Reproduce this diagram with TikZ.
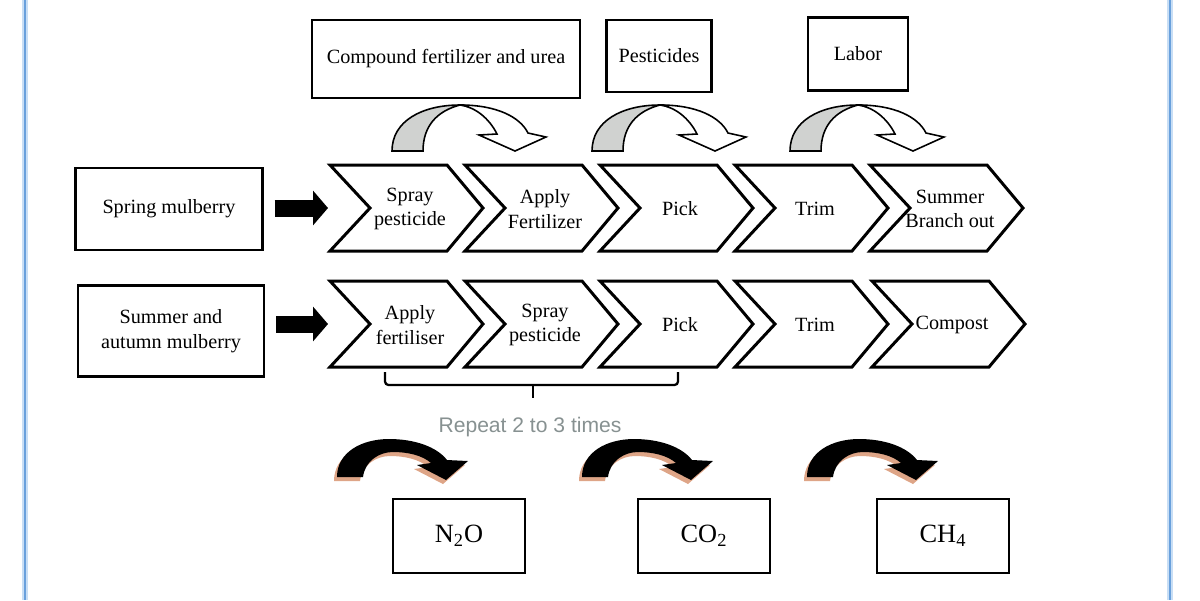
\documentclass[tikz,border=0pt]{standalone}
\usepackage{fontspec}
\setmainfont{Liberation Serif}
\newfontfamily\repeatfont{Liberation Sans}
\usepackage{xcolor}
\usetikzlibrary{calc, arrows.meta}

\definecolor{frameblue}{RGB}{105,160,220}
\definecolor{frameglow}{RGB}{200,222,245}
\definecolor{twistgray}{RGB}{208,210,208}
\definecolor{shadowsalmon}{RGB}{222,165,135}
\definecolor{repeatgray}{RGB}{135,145,145}

% chevron: name, x, y (top left), text
\newcommand{\chevron}[4]{%
    \draw[chev]
        (#2,#3) -- ++(117,0) -- ++(36,43) --
        ++(-36,43) -- ++(-117,0) -- ++(40,-43) -- cycle;
    \node[chevtext] (#1) at ({#2+80},{#3+44}) {#4};
    \coordinate (#1w) at ({#2-2},{#3+43});
}

% outline of the black curved arrow
\newcommand{\blackarrowpath}{(0,0) .. controls (0,-25) and (25,-38) .. (52,-38)
    .. controls (78,-38) and (100,-30) .. (110,-17) -- (131,-16) -- (109,3)
    -- (80,-12) -- (94,-14) .. controls (85,-22) and (70,-25) .. (56,-25)
    .. controls (42,-25) and (28,-16) .. (26,0) -- cycle}

\begin{document}
\begin{tikzpicture}[
    x=0.02cm, y=-0.02cm,
    txt/.style={font=\fontsize{11.5}{14}\selectfont, align=center},
    box/.style={txt, draw, line width=1.4pt, inner sep=0pt},
    chev/.style={line width=1.7pt, line join=miter},
    chevtext/.style={txt, inner sep=0pt},
    gasbox/.style={draw, line width=1.5pt, inner sep=0pt,
        minimum width=2.64cm, minimum height=1.48cm,
        font=\fontsize{15}{18}\selectfont},
    blockarrow/.style={line width=0.34cm,
        -{Triangle[length=0.3cm, width=0.68cm]}, shorten <=0.22cm},
    repeattext/.style={font=\repeatfont\fontsize{12}{14}\selectfont,
        text=repeatgray},
    twistarrow/.pic={
        \filldraw[fill=twistgray, line width=0.9pt]
            (0,0) .. controls (0,-30) and (30,-46) .. (68,-46)
            .. controls (45,-40) and (31,-25) .. (31,0) -- cycle;
        \filldraw[fill=white, line width=0.9pt, line join=miter]
            (68,-46) .. controls (105,-46) and (128,-34) .. (136,-18)
            -- (154,-14) -- (123,0) -- (87,-16) -- (105,-17)
            .. controls (97,-33) and (83,-44) .. (68,-46) -- cycle;
    },
    blackarrow/.pic={
        \fill[shadowsalmon, shift={(-3,4)}] \blackarrowpath;
        \fill[black] \blackarrowpath;
    }
]

    \useasboundingbox (0,0) rectangle (1200,600);

    % 1. Khung xanh
    \draw[frameglow, line width=3.5pt] (25,0) -- (25,600);
    \draw[frameglow, line width=3.5pt] (1170,0) -- (1170,600);
    \draw[frameblue, line width=1.3pt] (25,0) -- (25,600);
    \draw[frameblue, line width=1.3pt] (1170,0) -- (1170,600);

    % 2. Hộp đầu vào phía trên
    \node[box, minimum width=5.36cm, minimum height=1.56cm]
        (fert) at (446,59) {Compound fertilizer and urea};

    \node[box, minimum width=2.1cm, minimum height=1.44cm]
        (pest) at (659,56) {Pesticides};

    \node[box, minimum width=2cm, minimum height=1.46cm]
        (labor) at (858,54) {Labor};

    % 3. Mũi tên cong phía trên
    \pic at (392,151) {twistarrow};
    \pic at (592,151) {twistarrow};
    \pic at (790,151) {twistarrow};

    % 4. Hàng 1: dâu xuân
    \node[box, minimum width=3.74cm, minimum height=1.64cm]
        (spring) at (169,209) {Spring mulberry};

    \chevron{sp1}{330}{165}{Spray\\pesticide}
    \chevron{sp2}{465}{165}{Apply\\Fertilizer}
    \chevron{sp3}{600}{165}{Pick}
    \chevron{sp4}{735}{165}{Trim}
    \chevron{sp5}{870}{165}{Summer\\Branch out}

    \draw[blockarrow] (spring.east |- sp1w) -- (sp1w);

    % 5. Hàng 2: dâu hè thu
    \node[box, minimum width=3.72cm, minimum height=1.82cm]
        (summer) at (171,331) {Summer and\\autumn mulberry};

    \chevron{su1}{330}{281}{Apply\\fertiliser}
    \chevron{su2}{465}{281}{Spray\\pesticide}
    \chevron{su3}{600}{281}{Pick}
    \chevron{su4}{735}{281}{Trim}
    \chevron{su5}{872}{281}{Compost}

    \draw[blockarrow] (summer.east |- su1w) -- (su1w);

    % 6. Ngoặc lặp lại
    \draw[line width=1.3pt, rounded corners=2pt]
        (385,372) -- (385,385) -- (678,385) -- (678,372);
    \draw[line width=1.3pt] (533,385) -- (533,398);

    \node[repeattext] (repeat) at (530,427) {Repeat 2 to 3 times};

    % 7. Mũi tên đen phía dưới
    \pic at (337,477) {blackarrow};
    \pic at (582,477) {blackarrow};
    \pic at (807,477) {blackarrow};

    % 8. Khí thải
    \node[gasbox] (ntwoo) at (459,536) {N\textsubscript{2}O};
    \node[gasbox] (cotwo) at (704,536) {CO\textsubscript{2}};
    \node[gasbox] (chfour) at (943,536) {CH\textsubscript{4}};

\end{tikzpicture}
\end{document}
